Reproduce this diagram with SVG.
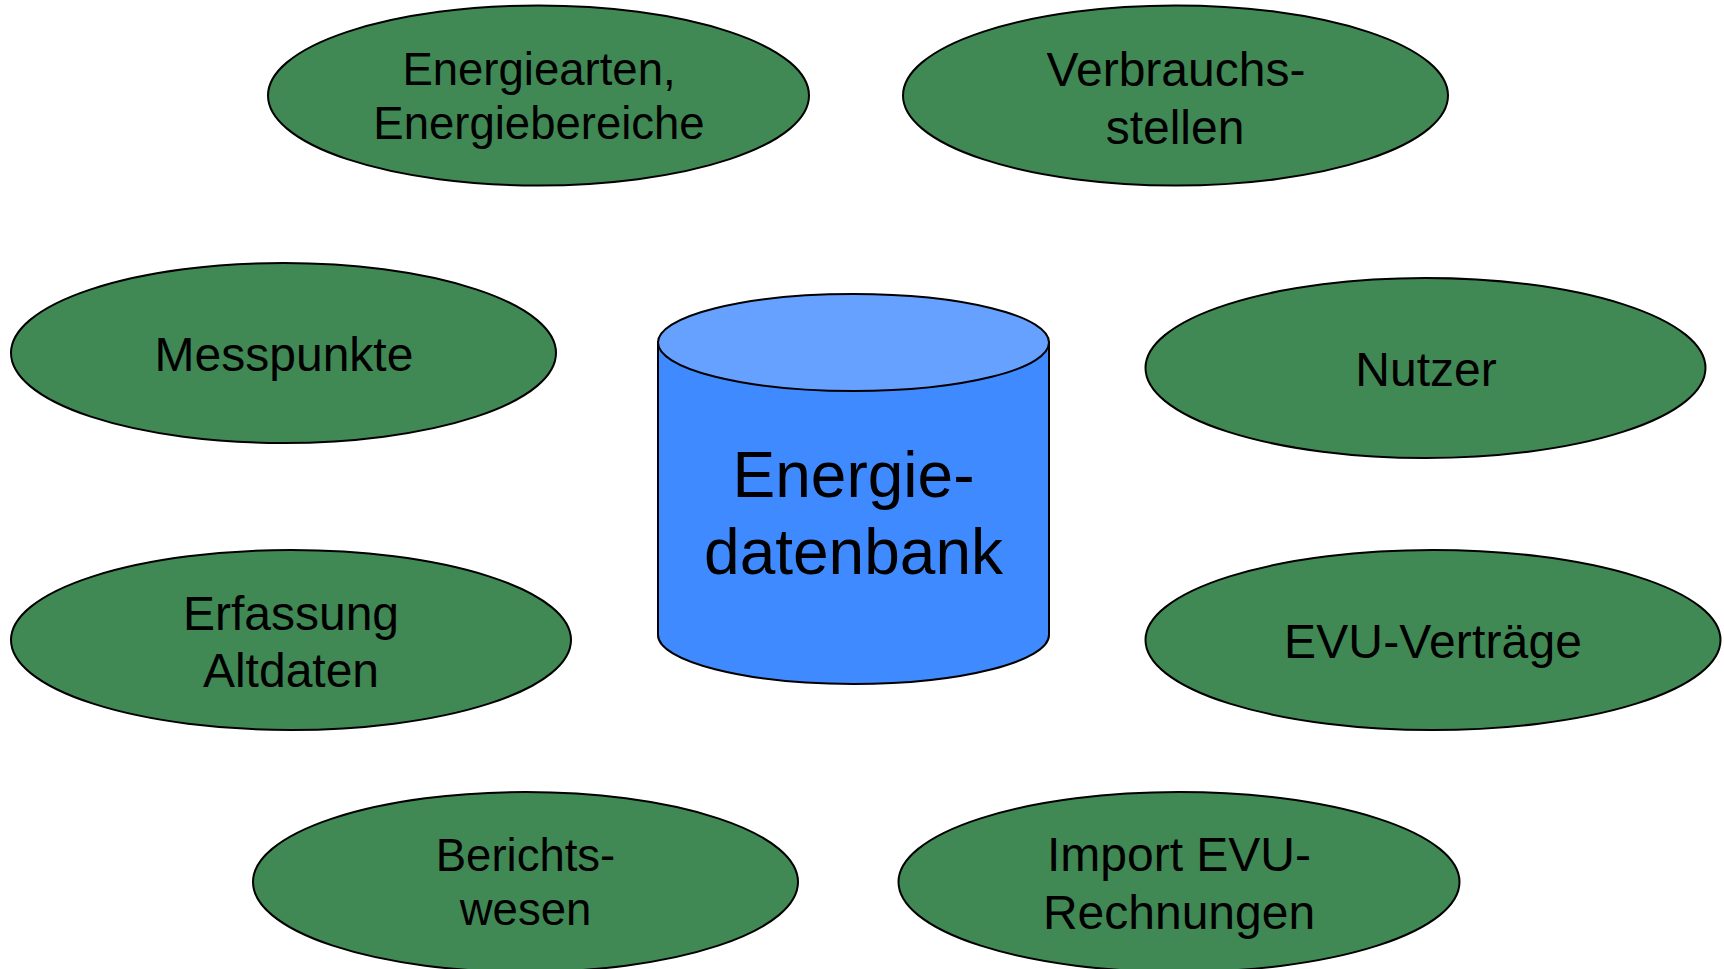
<svg xmlns="http://www.w3.org/2000/svg" width="1724" height="969" viewBox="0 0 1724 969">
<style>
.n{fill:#408955;stroke:#000;stroke-width:2}
.c{fill:#408aff;stroke:#000;stroke-width:2}
.t{fill:#66a1ff;stroke:#000;stroke-width:2}
text{font-family:"Liberation Sans",Arial,sans-serif;font-size:48px;text-anchor:middle;fill:#000}
.s{font-size:45.500px}
.b{font-size:64px}
</style>
<rect width="1724" height="969" fill="#fff"/>
<g id="connectors"></g>
<g id="n1"><ellipse class="n" cx="538.500" cy="95.500" rx="270.500" ry="90"/><text class="s" x="539" y="84.500">Energiearten,</text><text class="s" x="539" y="138.500">Energiebereiche</text></g>
<g id="n2"><ellipse class="n" cx="1175.500" cy="95.500" rx="272.500" ry="90"/><text x="1176" y="86">Verbrauchs-</text><text x="1175" y="144">stellen</text></g>
<g id="n3"><ellipse class="n" cx="283.500" cy="353" rx="272.500" ry="90"/><text x="284" y="371">Messpunkte</text></g>
<g id="n4"><ellipse class="n" cx="1425.500" cy="368" rx="280" ry="90"/><text x="1426" y="386">Nutzer</text></g>
<g id="n5"><ellipse class="n" cx="291" cy="640" rx="280" ry="90"/><text x="291" y="630">Erfassung</text><text x="291" y="687">Altdaten</text></g>
<g id="n6"><ellipse class="n" cx="1433" cy="640" rx="287.500" ry="90"/><text x="1433" y="658" textLength="298">EVU-Verträge</text></g>
<g id="n7"><ellipse class="n" cx="525.500" cy="882" rx="272.500" ry="90"/><text class="s" x="525.500" y="870.500">Berichts-</text><text class="s" x="525.500" y="924.500">wesen</text></g>
<g id="n8"><ellipse class="n" cx="1179" cy="882" rx="280.500" ry="90"/><text x="1179" y="871">Import EVU-</text><text x="1179" y="929">Rechnungen</text></g>
<g id="db"><path class="c" d="M658 342V635C658 661 745 684 853.500 684S1049 661 1049 635V342Z"/><ellipse class="t" cx="853.500" cy="342.500" rx="195.500" ry="48.500"/><text class="b" x="853.500" y="497">Energie-</text><text class="b" x="853.500" y="574">datenbank</text></g>
</svg>
